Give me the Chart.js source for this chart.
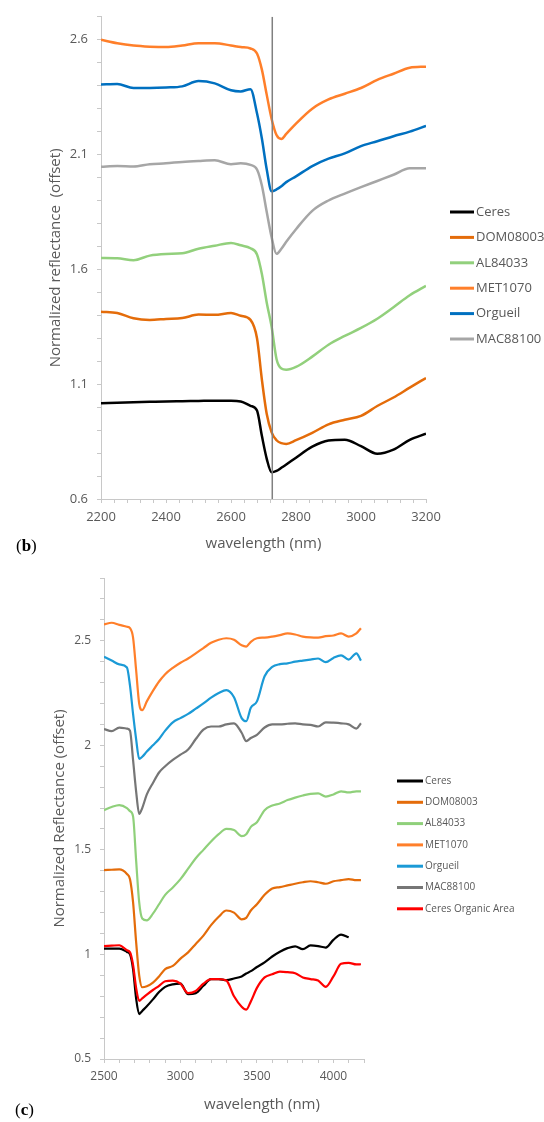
<!DOCTYPE html>
<html>
<head>
<meta charset="utf-8">
<script src="https://cdn.jsdelivr.net/npm/chart.js@4.4.0/dist/chart.umd.min.js"></script>
<style>
    body { margin: 0; background: #ffffff; }
    #pagina { position: relative; width: 544px; height: 1122px; }
    canvas { position: absolute; left: 0; }
</style>
</head>
<body>
<div id="pagina">
    <canvas id="grafico-b" width="544" height="560" style="top:0px"></canvas>
    <canvas id="grafico-c" width="544" height="562" style="top:560px"></canvas>
</div>
<script>
// ---------- panel (b) : 2200 - 3200 nm ----------
var wl_b     = [2200, 2250, 2300, 2350, 2400, 2450, 2500, 2550, 2600, 2630, 2660, 2680, 2695, 2710, 2725, 2740, 2755, 2770, 2800, 2850, 2900, 2950, 3000, 3050, 3100, 3150, 3200];
var ceres_b  = [1.017, 1.019, 1.021, 1.023, 1.025, 1.026, 1.027, 1.028, 1.028, 1.025, 1.006, 0.985, 0.875, 0.775, 0.716, 0.722, 0.736, 0.750, 0.780, 0.828, 0.855, 0.858, 0.830, 0.797, 0.815, 0.858, 0.884];
var dom_b    = [1.416, 1.410, 1.387, 1.380, 1.384, 1.388, 1.403, 1.402, 1.410, 1.398, 1.380, 1.300, 1.120, 0.970, 0.890, 0.856, 0.843, 0.840, 0.856, 0.888, 0.925, 0.945, 0.962, 1.005, 1.042, 1.085, 1.127];
var al_b     = [1.650, 1.649, 1.640, 1.660, 1.667, 1.670, 1.690, 1.703, 1.715, 1.705, 1.692, 1.665, 1.580, 1.455, 1.350, 1.210, 1.168, 1.163, 1.175, 1.220, 1.272, 1.310, 1.345, 1.385, 1.435, 1.487, 1.528];
var met_b    = [2.600, 2.585, 2.575, 2.570, 2.568, 2.575, 2.585, 2.585, 2.575, 2.568, 2.562, 2.540, 2.470, 2.360, 2.255, 2.185, 2.168, 2.190, 2.235, 2.300, 2.340, 2.365, 2.390, 2.425, 2.452, 2.478, 2.483];
var org_b    = [2.405, 2.407, 2.390, 2.390, 2.392, 2.397, 2.420, 2.410, 2.380, 2.375, 2.385, 2.280, 2.170, 2.035, 1.940, 1.948, 1.962, 1.980, 2.005, 2.050, 2.082, 2.105, 2.137, 2.158, 2.180, 2.200, 2.225];
var mac_b    = [2.047, 2.050, 2.048, 2.058, 2.062, 2.068, 2.072, 2.075, 2.058, 2.062, 2.055, 2.035, 1.965, 1.850, 1.740, 1.668, 1.690, 1.720, 1.775, 1.855, 1.900, 1.930, 1.958, 1.985, 2.012, 2.040, 2.040];
var linha_b  = [2727];   // vertical marker (nm)
var xTicks_b = [2200, 2400, 2600, 2800, 3000, 3200];
var yTicks_b = [0.6, 1.1, 1.6, 2.1, 2.6];

// ---------- panel (c) : 2500 - 4200 nm ----------
var wl_c     = [2500, 2550, 2600, 2650, 2670, 2690, 2710, 2730, 2750, 2780, 2820, 2860, 2900, 2950, 3000, 3050, 3100, 3150, 3200, 3250, 3300, 3350, 3400, 3430, 3460, 3500, 3550, 3600, 3650, 3700, 3750, 3800, 3850, 3900, 3950, 4000, 4050, 4100, 4150, 4180];
var ceres_c  = [1.028, 1.028, 1.028, 1.012, 1.000, 0.930, 0.790, 0.715, 0.730, 0.752, 0.785, 0.820, 0.845, 0.857, 0.860, 0.810, 0.815, 0.850, 0.882, 0.882, 0.877, 0.885, 0.895, 0.909, 0.920, 0.940, 0.962, 0.990, 1.013, 1.030, 1.039, 1.025, 1.043, 1.040, 1.033, 1.070, 1.095, 1.082, null, null];
var dom_c    = [1.403, 1.405, 1.407, 1.385, 1.360, 1.250, 1.060, 0.900, 0.843, 0.848, 0.865, 0.895, 0.930, 0.945, 0.980, 1.010, 1.050, 1.090, 1.140, 1.180, 1.210, 1.200, 1.168, 1.175, 1.210, 1.240, 1.285, 1.315, 1.322, 1.330, 1.338, 1.345, 1.350, 1.345, 1.338, 1.350, 1.355, 1.360, 1.355, 1.355];
var al_c     = [1.690, 1.705, 1.714, 1.700, 1.685, 1.660, 1.450, 1.250, 1.172, 1.163, 1.195, 1.240, 1.285, 1.320, 1.360, 1.410, 1.460, 1.500, 1.540, 1.575, 1.600, 1.595, 1.566, 1.575, 1.610, 1.632, 1.690, 1.712, 1.722, 1.738, 1.750, 1.760, 1.768, 1.770, 1.755, 1.765, 1.780, 1.775, 1.780, 1.780];
var met_c    = [2.578, 2.586, 2.576, 2.567, 2.560, 2.515, 2.360, 2.200, 2.168, 2.210, 2.260, 2.305, 2.340, 2.370, 2.395, 2.415, 2.440, 2.465, 2.490, 2.505, 2.512, 2.505, 2.478, 2.472, 2.495, 2.512, 2.515, 2.520, 2.527, 2.535, 2.530, 2.520, 2.516, 2.515, 2.522, 2.525, 2.535, 2.520, 2.535, 2.560];
var org_c    = [2.423, 2.405, 2.387, 2.372, 2.285, 2.150, 2.030, 1.935, 1.945, 1.970, 2.000, 2.030, 2.070, 2.110, 2.130, 2.150, 2.175, 2.200, 2.228, 2.250, 2.264, 2.230, 2.130, 2.115, 2.180, 2.210, 2.330, 2.375, 2.388, 2.392, 2.400, 2.405, 2.410, 2.415, 2.398, 2.418, 2.430, 2.410, 2.440, 2.405];
var mac_c    = [2.078, 2.068, 2.085, 2.080, 2.070, 1.930, 1.780, 1.672, 1.700, 1.765, 1.820, 1.870, 1.900, 1.930, 1.955, 1.980, 2.030, 2.075, 2.090, 2.090, 2.100, 2.105, 2.060, 2.020, 2.035, 2.050, 2.085, 2.100, 2.100, 2.103, 2.105, 2.100, 2.098, 2.090, 2.110, 2.108, 2.105, 2.100, 2.080, 2.105];
var org_area_c = [1.040, 1.042, 1.044, 1.020, 1.010, 0.950, 0.840, 0.778, 0.790, 0.808, 0.830, 0.850, 0.872, 0.875, 0.860, 0.815, 0.825, 0.860, 0.882, 0.882, 0.875, 0.800, 0.750, 0.736, 0.775, 0.840, 0.890, 0.905, 0.918, 0.915, 0.910, 0.890, 0.882, 0.875, 0.845, 0.895, 0.955, 0.960, 0.952, 0.953];
var xTicks_c = [2500, 3000, 3500, 4000];
var yTicks_c = [0.5, 1, 1.5, 2, 2.5];

var cinza = '#595959';
var fonte = '"Open Sans", "DejaVu Sans", sans-serif';

// pairs wavelength + value, skipping empty cells
function serie(wl, valores) {
    var pontos = [];
    for (var i = 0; i < wl.length; i++) {
        if (valores[i] !== null) pontos.push({ x: wl[i], y: valores[i] });
    }
    return pontos;
}

function linha(label, wl, valores, cor, largura, ordem) {
    return {
        label: label,
        data: serie(wl, valores),
        borderColor: cor,
        backgroundColor: cor,
        borderWidth: largura,
        pointRadius: 0,
        showLine: true,
        fill: false,
        cubicInterpolationMode: 'monotone',
        order: ordem || 0
    };
}

// only print the labels that are in the list
function rotulo(lista) {
    return function (value) {
        for (var i = 0; i < lista.length; i++) {
            if (Math.abs(value - lista[i]) < 1e-6) return String(lista[i]);
        }
        return '';
    };
}

// legend + panel letter + extra titles drawn on the canvas
var extrasPlugin = {
    id: 'extras',
    afterDraw: function (chart, args, opts) {
        var ctx = chart.ctx;
        ctx.save();
        ctx.textBaseline = 'middle';
        ctx.textAlign = 'left';
        // legend
        var n = 0;
        ctx.font = opts.legendFont;
        chart.data.datasets.forEach(function (ds) {
            if (!ds.label) return;
            var y = opts.legendY + n * opts.legendDy;
            ctx.strokeStyle = ds.borderColor;
            ctx.lineWidth = 3;
            ctx.beginPath();
            ctx.moveTo(opts.legendX0, y);
            ctx.lineTo(opts.legendX1, y);
            ctx.stroke();
            ctx.fillStyle = cinza;
            ctx.fillText(ds.label, opts.legendX1 + 2, y);
            n++;
        });
        // free title (used for the x title of panel c)
        if (opts.title) {
            ctx.font = '15px ' + fonte;
            ctx.fillStyle = cinza;
            ctx.textAlign = 'center';
            ctx.fillText(opts.title.text, opts.title.x, opts.title.y);
            ctx.textAlign = 'left';
        }
        // panel letter "(b)" / "(c)"
        var x = opts.letterX, y = opts.letterY;
        ctx.fillStyle = '#000000';
        ctx.font = '17px "Liberation Serif", serif';
        ctx.fillText('(', x, y);
        x += ctx.measureText('(').width;
        ctx.font = 'bold 17px "Liberation Serif", serif';
        ctx.fillText(opts.letter, x, y);
        x += ctx.measureText(opts.letter).width;
        ctx.font = '17px "Liberation Serif", serif';
        ctx.fillText(')', x, y);
        ctx.restore();
    }
};

function eixos(xmin, xmax, xstep, xlista, ymin, ymax, ylista, yWidth, xHeight, tickSize, yTitulo, yTitlePad, xTitulo) {
    var grade = { display: true, drawOnChartArea: false, drawTicks: true, tickLength: 4, color: '#c8c8c8' };
    var borda = { display: true, color: '#c8c8c8', width: 1 };
    return {
        x: {
            type: 'linear', min: xmin, max: xmax,
            grid: grade, border: borda,
            ticks: { stepSize: xstep, autoSkip: false, maxRotation: 0, padding: 6, color: cinza,
                     font: { family: fonte, size: tickSize }, callback: rotulo(xlista) },
            title: { display: !!xTitulo, text: xTitulo || '', color: cinza,
                     font: { family: fonte, size: 15 }, padding: { top: 0, bottom: 7 } },
            afterFit: function (scale) { scale.height = xHeight; }
        },
        y: {
            type: 'linear', min: ymin, max: ymax,
            grid: grade, border: borda,
            ticks: { stepSize: 0.1, autoSkip: false, padding: 9, color: cinza,
                     font: { family: fonte, size: tickSize }, callback: rotulo(ylista) },
            title: { display: true, text: yTitulo, color: cinza,
                     font: { family: fonte, size: 15 }, padding: { top: yTitlePad, bottom: 0 } },
            afterFit: function (scale) { scale.width = yWidth; }
        }
    };
}

// ---------- chart (b) ----------
var yMin_b = 0.6, yMax_b = 2.7;
var dados_b = [
    linha('Ceres',    wl_b, ceres_b, '#000000', 2.5),
    linha('DOM08003', wl_b, dom_b,   '#E46C0A', 2.5),
    linha('AL84033',  wl_b, al_b,    '#92D07C', 2.5),
    linha('MET1070',  wl_b, met_b,   '#FF7F2A', 2.5),
    linha('Orgueil',  wl_b, org_b,   '#0070C0', 2.5),
    linha('MAC88100', wl_b, mac_b,   '#A6A6A6', 2.5),
    {
        label: '',
        data: [{ x: linha_b[0], y: yMin_b }, { x: linha_b[0], y: yMax_b }],
        borderColor: '#808080', borderWidth: 1.5, pointRadius: 0, showLine: true, order: -2
    }
];

var config_b = {
    type: 'scatter',
    data: { datasets: dados_b },
    options: {
        responsive: false,
        animation: false,
        devicePixelRatio: 1,
        layout: { padding: { top: 14, right: 118, left: 0, bottom: 0 } },
        scales: eixos(2200, 3200, 40, xTicks_b, yMin_b, yMax_b, yTicks_b, 101, 61, 13,
                      'Normalized reflectance  (offset)', 47, 'wavelength (nm)'),
        plugins: {
            legend: { display: false },
            tooltip: { enabled: false },
            extras: {
                legendFont: '13px ' + fonte,
                legendX0: 450, legendX1: 474, legendY: 212, legendDy: 25.4,
                letter: 'b', letterX: 16, letterY: 547
            }
        }
    },
    plugins: [extrasPlugin]
};

// ---------- chart (c) ----------
var dados_c = [
    linha('Ceres',              wl_c, ceres_c,    '#000000', 2.2),
    linha('DOM08003',           wl_c, dom_c,      '#E46C0A', 2.2),
    linha('AL84033',            wl_c, al_c,       '#8FD07A', 2.2),
    linha('MET1070',            wl_c, met_c,      '#FF7F2A', 2.2),
    linha('Orgueil',            wl_c, org_c,      '#1B9AD6', 2.2),
    linha('MAC88100',           wl_c, mac_c,      '#767676', 2.2),
    linha('Ceres Organic Area', wl_c, org_area_c, '#FF0000', 2.2, -1)
];

var config_c = {
    type: 'scatter',
    data: { datasets: dados_c },
    options: {
        responsive: false,
        animation: false,
        devicePixelRatio: 1,
        layout: { padding: { top: 18, right: 180, left: 0, bottom: 0 } },
        scales: eixos(2500, 4200, 100, xTicks_c, 0.5, 2.8, yTicks_c, 104, 63, 12,
                      'Normalized Reflectance (offset)', 51, ''),
        plugins: {
            legend: { display: false },
            tooltip: { enabled: false },
            extras: {
                legendFont: '10px ' + fonte,
                legendX0: 397, legendX1: 423, legendY: 221, legendDy: 21.3,
                title: { text: 'wavelength (nm)', x: 262, y: 545 },
                letter: 'c', letterX: 15, letterY: 551
            }
        }
    },
    plugins: [extrasPlugin]
};

var grafico_b = new Chart(document.getElementById('grafico-b'), config_b);
var grafico_c = new Chart(document.getElementById('grafico-c'), config_c);
</script>
</body>
</html>
